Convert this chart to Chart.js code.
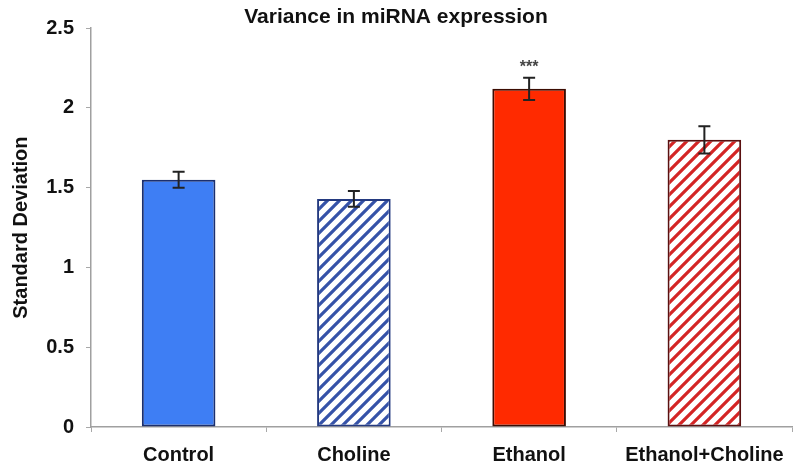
<!DOCTYPE html>
<html>
<head>
<meta charset="utf-8">
<script src="https://cdn.jsdelivr.net/npm/chart.js@4"></script>
<style>
  html, body { margin: 0; padding: 0; background: #fff; }
  #wrap { width: 800px; height: 465px; }
</style>
</head>
<body>
<div id="wrap"><canvas id="myChart"></canvas></div>
<script>
var groups = ['Control', 'Choline', 'Ethanol', 'Ethanol+Choline']
var sdValues = [1.55, 1.43, 2.12, 1.80]
var sdErrors = [0.05, 0.05, 0.07, 0.085]
var stars = ['', '', '***', '']

// diagonal stripes for the choline groups
function stripes(color) {
    var c = document.createElement('canvas')
    c.width = 12
    c.height = 12
    var g = c.getContext('2d')
    g.fillStyle = '#fff'
    g.fillRect(0, 0, 12, 12)
    g.strokeStyle = color
    g.lineWidth = 3.2
    g.beginPath()
    g.moveTo(-3, 15); g.lineTo(15, -3)
    g.moveTo(-3, 3); g.lineTo(3, -3)
    g.moveTo(9, 15); g.lineTo(15, 9)
    g.stroke()
    return g.createPattern(c, 'repeat')
}

var fills = ['#3e7ef4', stripes('#3552a8'), '#ff2a00', stripes('#d42424')]
var edges = ['#1b2f6e', '#243a80', '#3b0c02', '#5a1010']

var errorBars = {
    id: 'errorBars',
    afterDatasetsDraw: function(chart) {
        var ctx = chart.ctx
        var y = chart.scales.y
        var meta = chart.getDatasetMeta(0)
        ctx.save()
        ctx.strokeStyle = '#222'
        ctx.lineWidth = 2
        meta.data.forEach(function(bar, i) {
            var top = y.getPixelForValue(sdValues[i] + sdErrors[i])
            var bot = y.getPixelForValue(sdValues[i] - sdErrors[i])
            ctx.beginPath()
            ctx.moveTo(bar.x, top); ctx.lineTo(bar.x, bot)
            ctx.moveTo(bar.x - 6, top); ctx.lineTo(bar.x + 6, top)
            ctx.moveTo(bar.x - 6, bot); ctx.lineTo(bar.x + 6, bot)
            ctx.stroke()
            if (stars[i]) {
                ctx.fillStyle = '#444'
                ctx.font = 'bold 16px "Liberation Sans", Arial, sans-serif'
                ctx.textAlign = 'center'
                ctx.textBaseline = 'alphabetic'
                ctx.fillText(stars[i], bar.x, top - 6)
            }
        })
        ctx.restore()
    }
}

var ctx = document.getElementById('myChart')
var myChart = new Chart(ctx, {
    type: 'bar',
    data: {
        labels: groups,
        datasets: [{
            data: sdValues,
            backgroundColor: fills,
            borderColor: edges,
            borderWidth: 2,
            borderSkipped: false,
            barPercentage: 0.42,
            categoryPercentage: 1
        }]
    },
    options: {
        responsive: true,
        maintainAspectRatio: false,
        animation: false,
        layout: { padding: { left: 0, right: 8, top: 0, bottom: 0 } },
        plugins: {
            legend: { display: false },
            tooltip: { enabled: false },
            title: {
                display: true,
                text: 'Variance in miRNA expression',
                color: '#111',
                font: { family: '"Liberation Sans", Arial, sans-serif', size: 21, weight: 'bold' },
                padding: { top: 5, bottom: -2 }
            }
        },
        scales: {
            x: {
                grid: { drawOnChartArea: false, drawTicks: true, tickLength: 5, color: '#a8a8a8', offset: true },
                border: { color: '#a0a0a0', width: 1.5 },
                ticks: {
                    color: '#111',
                    padding: 11,
                    font: { family: '"Liberation Sans", Arial, sans-serif', size: 20, weight: 'bold' }
                },
                afterFit: function(scale) { scale.height = 38 }
            },
            y: {
                min: 0,
                max: 2.5,
                grid: { drawOnChartArea: false, drawTicks: true, tickLength: 5, color: '#a8a8a8' },
                border: { color: '#a0a0a0', width: 1.5 },
                ticks: {
                    stepSize: 0.5,
                    color: '#111',
                    padding: 12,
                    font: { family: '"Liberation Sans", Arial, sans-serif', size: 20, weight: 'bold' },
                    callback: function(v) { return String(Math.round(v * 10) / 10) }
                },
                title: {
                    display: true,
                    text: 'Standard Deviation',
                    color: '#111',
                    padding: { top: 9, bottom: 0 },
                    font: { family: '"Liberation Sans", Arial, sans-serif', size: 20, weight: 'bold' }
                },
                afterFit: function(scale) { scale.width = 91 }
            }
        }
    },
    plugins: [errorBars]
})
</script>
</body>
</html>
